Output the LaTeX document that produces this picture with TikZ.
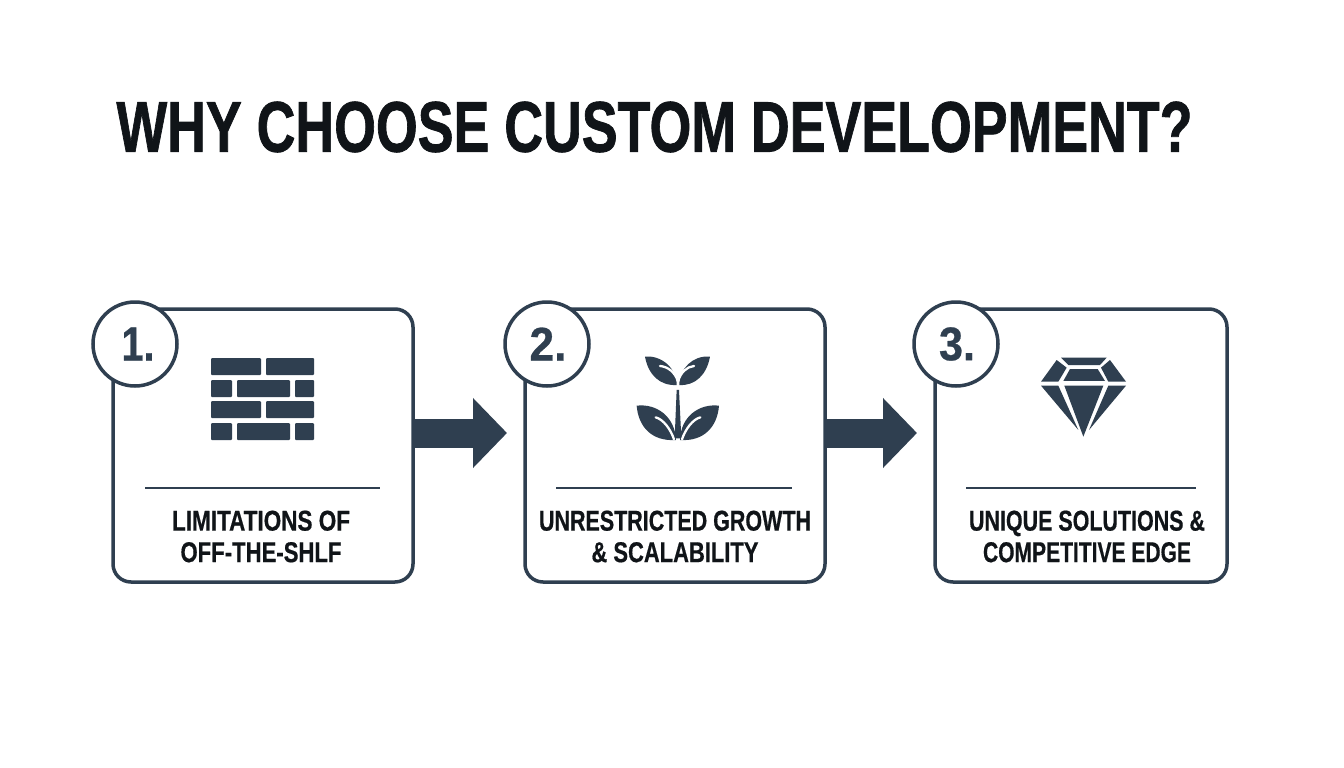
\documentclass[tikz,border=0pt]{standalone}
\usepackage{fontspec}
\usepackage{graphicx}
\setmainfont{Liberation Sans}
\newfontfamily\heavyfont{Liberation Sans Bold}[FakeBold=1.2]
\newfontfamily\capfont{Liberation Sans Bold}[FakeBold=0.6]
\usetikzlibrary{arrows.meta,calc}
\definecolor{navy}{HTML}{2F3F50}
\definecolor{ink}{HTML}{101418}
\newcommand{\fitline}[3]{\resizebox{#1pt}{#2pt}{\capfont #3}}
\newcommand{\fithead}[3]{\resizebox{#1pt}{#2pt}{\heavyfont #3}}
\tikzset{
  card/.style={draw=navy,line width=3.5pt,rounded corners=18pt,fill=white,minimum height=273pt,outer sep=0pt,inner sep=0pt},
  badge/.style={circle,draw=navy,line width=3.5pt,fill=white,minimum size=84pt,outer sep=0pt,inner sep=0pt,text=navy},
  numeral/.style={text=navy,inner sep=0pt},
  rulebar/.style={draw=navy,line width=1.8pt},
  caption/.style={text=ink,align=center,inner sep=0pt,font=\fontsize{28}{31.5}\selectfont},
  flow/.style={draw=navy,line width=29pt,-{Triangle[length=34pt,width=68pt]},shorten >=18pt},
  brick/.style={fill=navy,rounded corners=1pt},
  leaf/.style={fill=navy},
  vein/.style={draw=white,line width=2.3pt,line cap=round},
  facet/.style={fill=navy}
}
\newcommand{\brickrow}[4]{%
  \fill[brick] (#1,#2) rectangle (#3,#4);}
\begin{document}
\begin{tikzpicture}[x=1pt,y=-1pt]
\useasboundingbox (0,0) rectangle (1344,768);
\fill[white] (0,0) rectangle (1344,768);

\node[text=ink,inner sep=0pt] (title) at (654.5,127) {\fithead{1076}{50}{\fontsize{70}{70}\selectfont WHY CHOOSE CUSTOM DEVELOPMENT?}};

\node[card,minimum width=300pt] (c1) at (263,445.5) {};
\node[card,minimum width=300pt] (c2) at (675,445.5) {};
\node[card,minimum width=292pt] (c3) at (1081,445.5) {};

\draw[flow] ($(c1.east)+(0,-12.5)$) -- ($(c2.west)+(0,-12.5)$);
\draw[flow] ($(c2.east)+(0,-12.5)$) -- ($(c3.west)+(0,-12.5)$);

\node[badge] (b1) at (135,344) {};
\node[badge] (b2) at (547,344) {};
\node[badge] (b3) at (956,344) {};
\node[numeral] (n1) at (138,344) {\fitline{33}{33}{\fontsize{38}{38}\selectfont 1.}};
\node[numeral] (n2) at (548,344) {\fitline{37}{33}{\fontsize{38}{38}\selectfont 2.}};
\node[numeral] (n3) at (957,344) {\fitline{36}{33}{\fontsize{38}{38}\selectfont 3.}};

% dividers
\coordinate (r1a) at (145,488); \coordinate (r1b) at (380,488);
\coordinate (r2a) at (556,488); \coordinate (r2b) at (792,488);
\coordinate (r3a) at (966,488); \coordinate (r3b) at (1196,488);
\draw[rulebar] (r1a) -- (r1b);
\draw[rulebar] (r2a) -- (r2b);
\draw[rulebar] (r3a) -- (r3b);

% captions
\node[caption] (t1) at (261,536.5) {\fitline{178}{20}{LIMITATIONS OF}\\\fitline{161}{20}{OFF-THE-SHLF}};
\node[caption] (t2) at (675,536.5) {\fitline{272}{20}{UNRESTRICTED GROWTH}\\\fitline{167}{20}{\& SCALABILITY}};
\node[caption] (t3) at (1087,536.5) {\fitline{236}{20}{UNIQUE SOLUTIONS \&}\\\fitline{208}{20}{COMPETITIVE EDGE}};

% brick wall icon
\brickrow{211}{358}{261}{375}\brickrow{266}{358}{314}{375}
\brickrow{211}{380}{232}{397}\brickrow{237}{380}{290}{397}\brickrow{295}{380}{314}{397}
\brickrow{211}{401}{261}{418}\brickrow{266}{401}{314}{418}
\brickrow{211}{423}{232}{440}\brickrow{237}{423}{290}{440}\brickrow{295}{423}{314}{440}

% sprout icon
\begin{scope}[shift={(620,340)},x=0.3333pt,y=-0.3333pt]
\fill[leaf] (75,50) .. controls (125,45) and (170,85) .. (170,135) .. controls (120,138) and (85,105) .. (75,50) -- cycle;
\fill[leaf] (270,50) .. controls (220,45) and (178,85) .. (178,135) .. controls (225,138) and (260,105) .. (270,50) -- cycle;
\fill[leaf] (50,197) .. controls (110,190) and (165,230) .. (168,300) .. controls (95,305) and (55,260) .. (50,197) -- cycle;
\fill[leaf] (297,197) .. controls (237,190) and (182,230) .. (180,300) .. controls (252,305) and (292,260) .. (297,197) -- cycle;
\fill[leaf] (170,150) -- (177,150) -- (184,295) -- (164,295) -- cycle;
\draw[vein] (120,78) .. controls (145,80) and (165,98) .. (173,122);
\draw[vein] (222,78) .. controls (200,80) and (182,98) .. (175,122);
\draw[vein] (107,232) .. controls (130,238) and (152,268) .. (162,298);
\draw[vein] (241,232) .. controls (218,238) and (196,268) .. (186,298);
\end{scope}

% diamond icon
\begin{scope}[shift={(1025,345)},x=0.3333pt,y=-0.3333pt]
\fill[facet] (108,38) -- (245,38) -- (225,60) -- (130,60) -- cycle;
\fill[facet] (95,45) -- (125,68) -- (100,110) -- (48,110) -- cycle;
\fill[facet] (135,72) -- (218,72) -- (240,108) -- (115,108) -- cycle;
\fill[facet] (255,45) -- (303,110) -- (250,110) -- (228,68) -- cycle;
\fill[facet] (48,122) -- (100,122) -- (160,255) -- cycle;
\fill[facet] (118,122) -- (235,122) -- (175,275) -- cycle;
\fill[facet] (250,122) -- (303,122) -- (192,255) -- cycle;
\end{scope}
\end{tikzpicture}
\end{document}
